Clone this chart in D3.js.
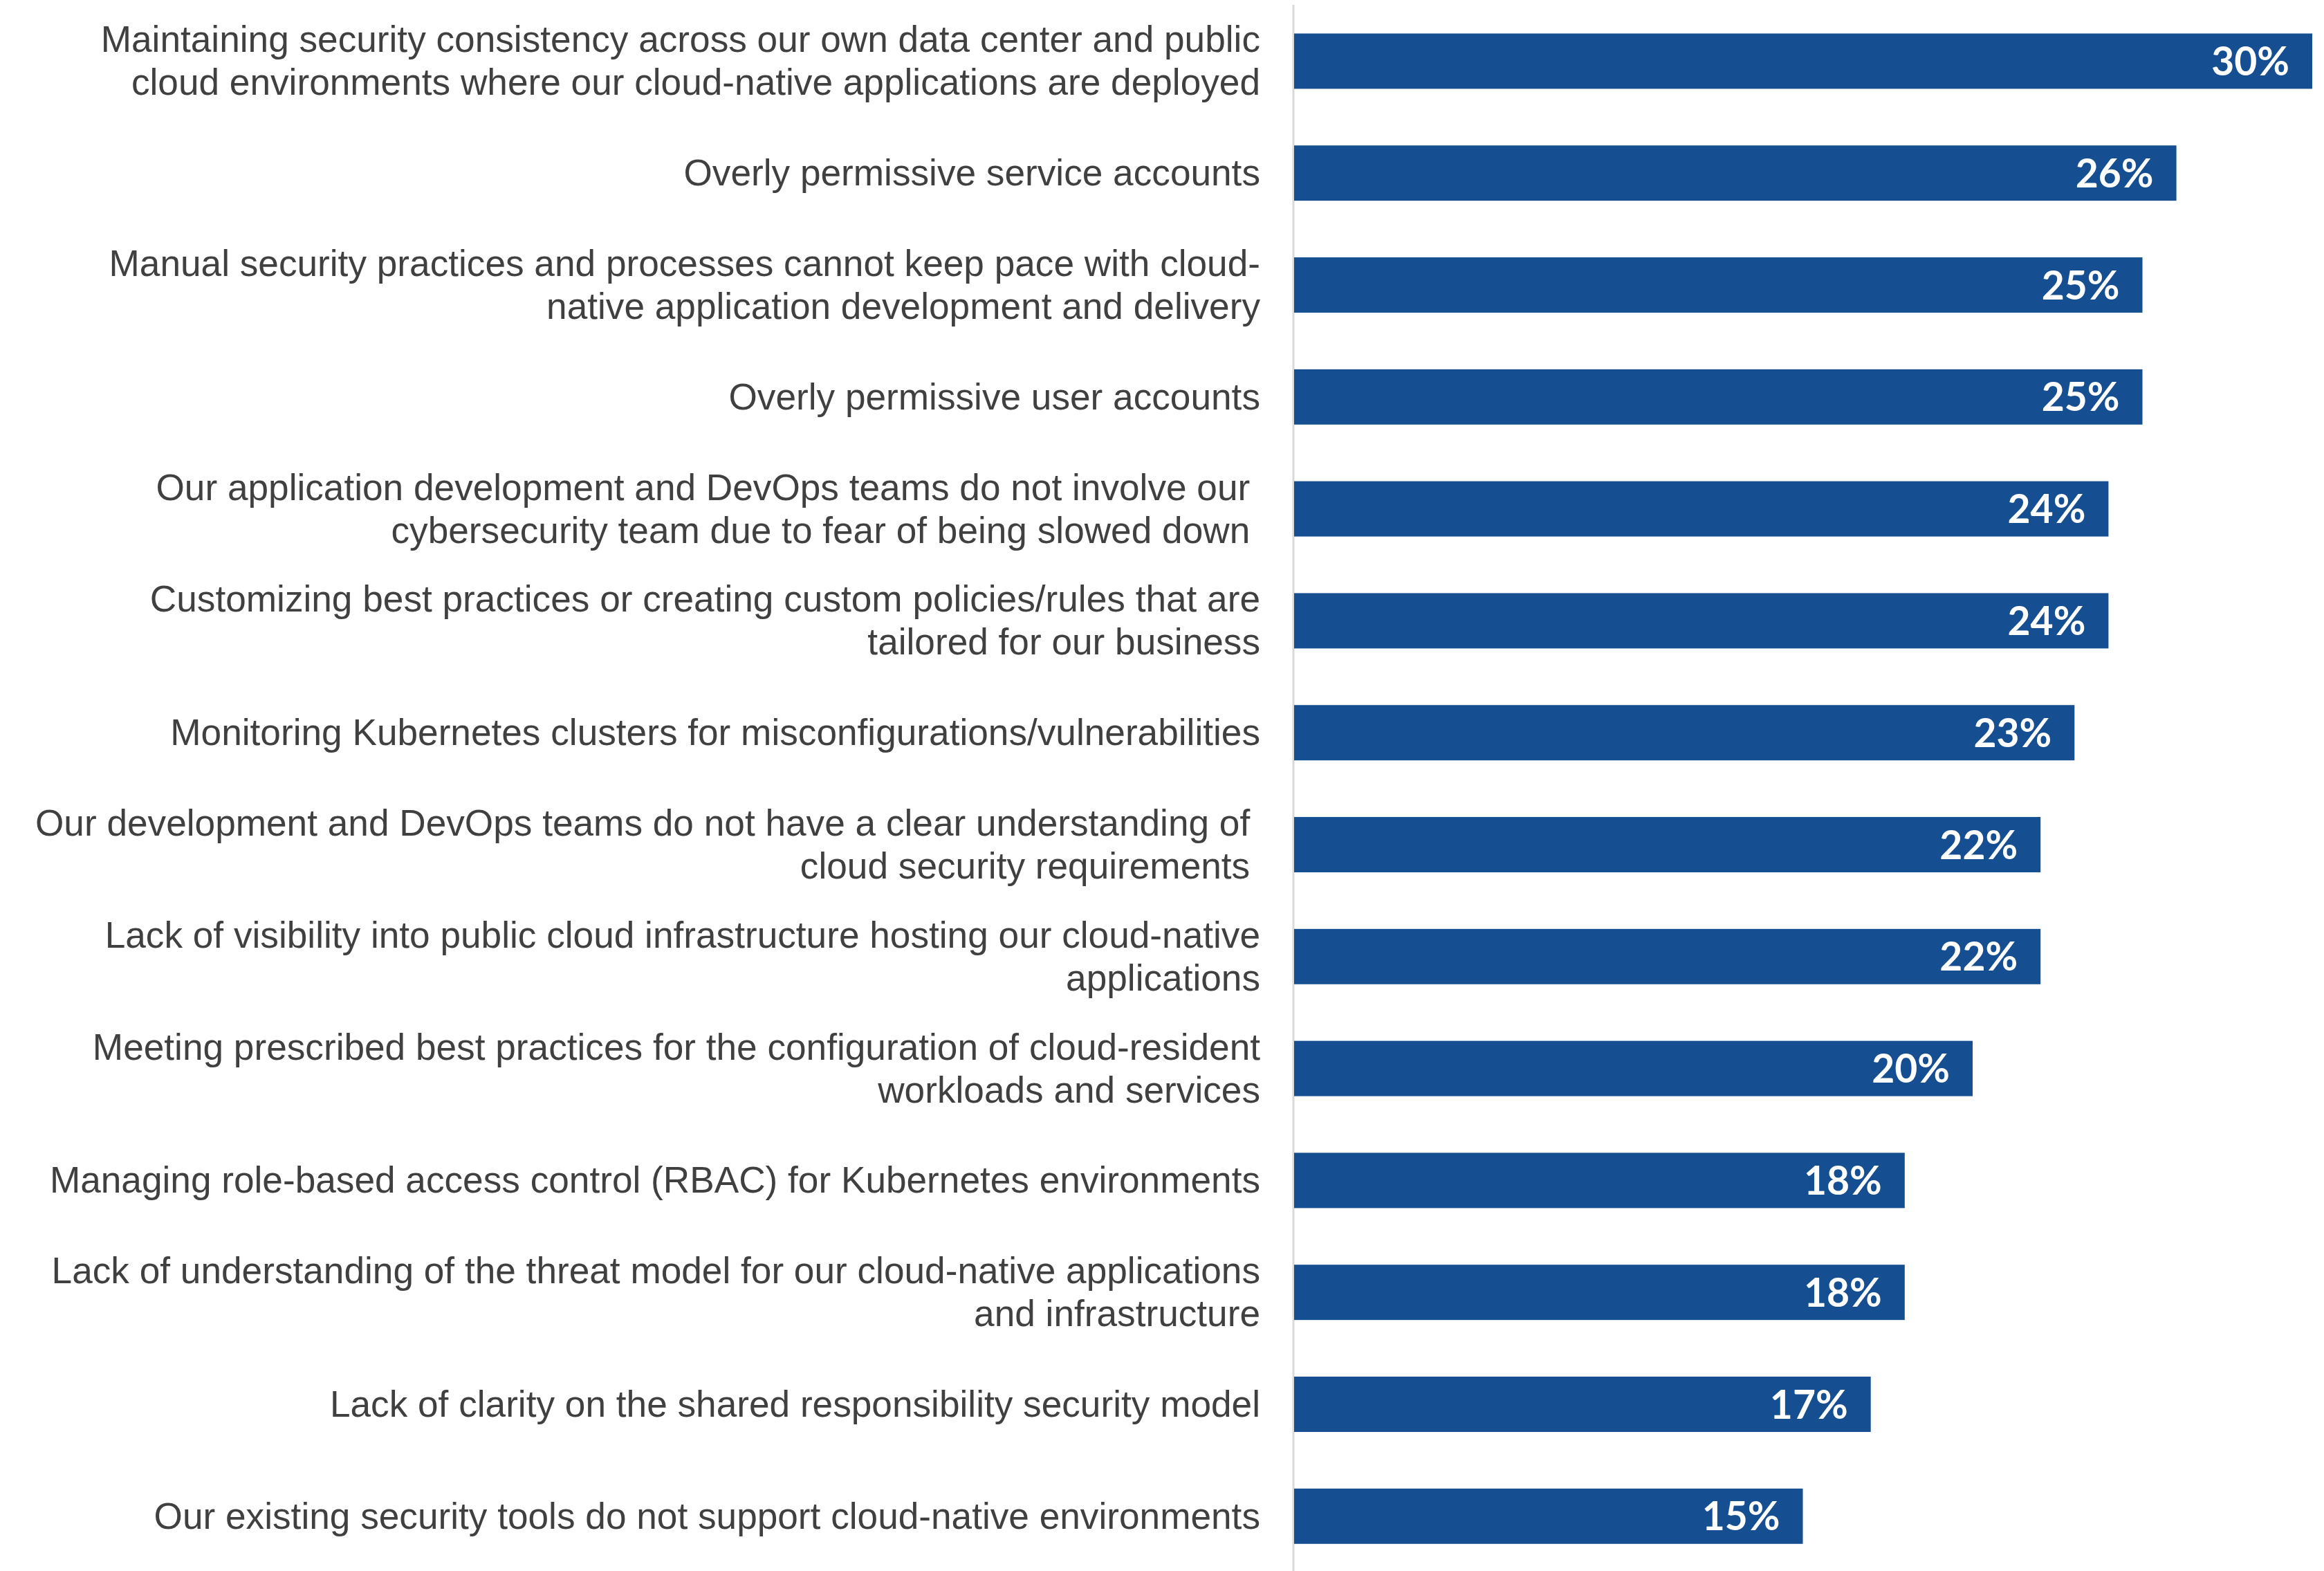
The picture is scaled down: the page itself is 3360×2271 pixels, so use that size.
<!DOCTYPE html>
<html><head><meta charset="utf-8">
<script src="https://cdn.jsdelivr.net/npm/d3@7"></script>
<style>html,body{margin:0;padding:0;background:#fff;}</style>
</head><body>
<svg id="c" width="3360" height="2271"></svg>
<script>
const categories = [
  ["Maintaining security consistency across our own data center and public", "cloud environments where our cloud-native applications are deployed"],
  ["Overly permissive service accounts"],
  ["Manual security practices and processes cannot keep pace with cloud-", "native application development and delivery"],
  ["Overly permissive user accounts"],
  ["Our application development and DevOps teams do not involve our ", "cybersecurity team due to fear of being slowed down "],
  ["Customizing best practices or creating custom policies/rules that are", "tailored for our business"],
  ["Monitoring Kubernetes clusters for misconfigurations/vulnerabilities"],
  ["Our development and DevOps teams do not have a clear understanding of ", "cloud security requirements "],
  ["Lack of visibility into public cloud infrastructure hosting our cloud-native", "applications"],
  ["Meeting prescribed best practices for the configuration of cloud-resident", "workloads and services"],
  ["Managing role-based access control (RBAC) for Kubernetes environments"],
  ["Lack of understanding of the threat model for our cloud-native applications", "and infrastructure"],
  ["Lack of clarity on the shared responsibility security model"],
  ["Our existing security tools do not support cloud-native environments"]
];
const values = [30, 26, 25, 25, 24, 24, 23, 22, 22, 20, 18, 18, 17, 15];
const valueLabels = ["30%","26%","25%","25%","24%","24%","23%","22%","22%","20%","18%","18%","17%","15%"];

const svg = d3.select("#c");
const axisX = 1870;
const ids = d3.range(categories.length);
const y = d3.scaleBand().domain(ids).range([7.5, 2272.7]).paddingInner(0.506).paddingOuter(0.253);
const x = d3.scaleLinear().domain([0, 30]).range([axisX, axisX + 1473]);

svg.append("line").attr("x1", axisX).attr("x2", axisX).attr("y1", 7).attr("y2", 2271)
  .attr("stroke", "#d9d9d9").attr("stroke-width", 3);

svg.selectAll("rect.bar").data(ids).join("rect").attr("class","bar")
  .attr("x", x(0) + 1).attr("y", d => y(d)).attr("height", y.bandwidth())
  .attr("width", d => x(values[d]) - x(0) - 1).attr("fill", "#154e91");

svg.selectAll("text.val").data(ids).join("text").attr("class","val")
  .attr("x", d => x(values[d]) - 33).attr("y", d => y(d) + y.bandwidth()/2)
  .attr("dy", "0.36em").attr("text-anchor", "end")
  .attr("font-family", "Lato, 'Open Sans', sans-serif").attr("font-weight", 700)
  .attr("font-size", 57).attr("fill", "#fff").text(d => valueLabels[d]);

const lh = 62;
const g = svg.selectAll("text.cat").data(ids).join("text").attr("class","cat")
  .attr("text-anchor", "end")
  .attr("font-family", "'Liberation Sans', Arial, sans-serif").attr("font-size", 53.2)
  .attr("fill", "#404040").style("white-space", "pre");
g.each(function(d) {
  const lines = categories[d];
  const cy = y(d) + y.bandwidth()/2;
  const t = d3.select(this);
  lines.forEach((ln, i) => {
    t.append("tspan").attr("x", 1822)
      .attr("y", cy + (i - (lines.length - 1)/2) * lh)
      .attr("dy", "0.34em").text(ln);
  });
});
</script>
</body></html>
